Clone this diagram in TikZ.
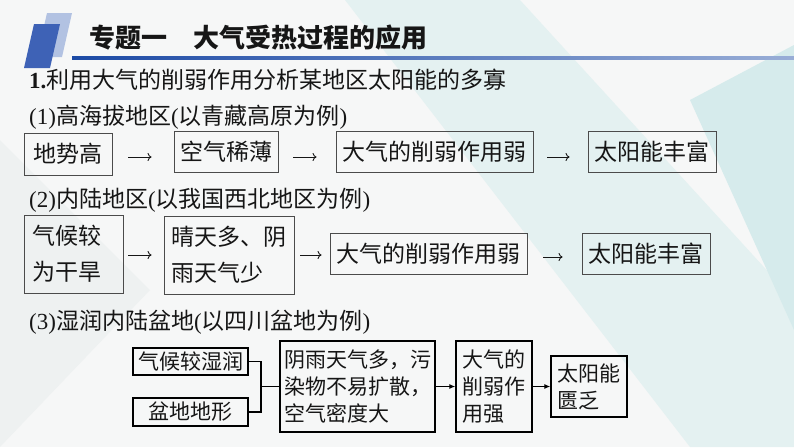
\documentclass[tikz,border=0pt]{standalone}
\usepackage{fontspec}
\setmainfont{Liberation Serif}
\newfontfamily\cjk{Noto Sans CJK SC}
\usetikzlibrary{arrows.meta,calc}
\newcommand{\zh}[1]{{\cjk #1}}
\definecolor{bg}{RGB}{246,247,247}
\definecolor{txt}{RGB}{22,22,22}
\definecolor{boxline}{RGB}{75,75,75}
\definecolor{darkblue}{RGB}{62,98,182}
\definecolor{lightblue}{RGB}{178,194,226}
\definecolor{lineblue}{RGB}{28,74,165}
\definecolor{bandA}{RGB}{228,241,241}
\definecolor{bandB}{RGB}{214,235,236}
\definecolor{bandC}{RGB}{238,241,241}
\tikzset{
  lbl/.style={anchor=west, inner sep=0, text=txt, font=\fontsize{23}{23}\selectfont},
  boxa/.style={draw=boxline, line width=0.9pt, inner sep=0, text=txt,
    font=\cjk\fontsize{23}{36}\selectfont},
  boxb/.style={draw=black, line width=1.3pt, inner sep=0, text=txt,
    font=\cjk\fontsize{21}{27}\selectfont},
  tarr/.style={draw=txt, line width=0.9pt, -{To[length=4pt,width=8pt]}},
  larr/.style={draw=black, line width=1.3pt, -{Latex[length=6pt,width=5pt]}},
  lnk/.style={draw=black, line width=1.3pt},
}
\begin{document}
\begin{tikzpicture}[x=1pt,y=-1pt]
\useasboundingbox (0,0) rectangle (794,447);
% background
\fill[bg] (0,0) rectangle (794,447);
\fill[bandC] (0,140) -- (150,290) -- (0,447) -- cycle;
\fill[bandA] (345,0) -- (520,0) -- (794,300) -- (794,447) -- (690,447) -- cycle;
\fill[bandB] (690,100) -- (794,45) -- (794,330) -- cycle;
% title decoration
\fill[lightblue] (47,13) -- (72,13) -- (62,57) -- (37,57) -- cycle;
\fill[darkblue] (34,24) -- (60,24) -- (50,68) -- (24,68) -- cycle;
\shade[left color=lineblue, right color=lineblue!45!white] (72,56) rectangle (794,59);
\node[anchor=west, inner sep=0, text=txt, font=\cjk\bfseries\fontsize{26}{26}\selectfont] (title) at (89,38) {专题一　大气受热过程的应用};
\node[lbl] (h1) at (29,80) {\textbf{1.}\zh{利用大气的削弱作用分析某地区太阳能的多寡}};
% row 1
\node[lbl] (l1) at (29,117) {(1)\zh{高海拔地区}(\zh{以青藏高原为例})};
\node[boxa, minimum width=88, minimum height=42] (r1a) at (68,154) {地势高};
\node[boxa, minimum width=104, minimum height=41] (r1b) at (226,151.5) {空气稀薄};
\node[boxa, minimum width=197, minimum height=41] (r1c) at (434.5,151.5) {大气的削弱作用弱};
\node[boxa, minimum width=128, minimum height=41] (r1d) at (652,151.5) {太阳能丰富};
\path ([yshift=-3pt]r1a.east) coordinate (y1a);
\path ([yshift=-5.5pt]r1b.east) coordinate (y1b);
\path ([yshift=-5.5pt]r1c.east) coordinate (y1c);
\draw[tarr, shorten <=16pt, shorten >=22pt] (y1a) -- (y1a -| r1b.west);
\draw[tarr, shorten <=15pt, shorten >=19pt] (y1b) -- (y1b -| r1c.west);
\draw[tarr, shorten <=14pt, shorten >=18pt] (y1c) -- (y1c -| r1d.west);
% row 2
\node[lbl] (l2) at (29,200) {(2)\zh{内陆地区}(\zh{以我国西北地区为例})};
\node[boxa, text width=83, inner xsep=8, minimum height=78, align=left] (r2a) at (73.5,254) {气候较\\为干旱};
\node[boxa, text width=116, inner xsep=7, minimum height=78, align=left] (r2b) at (229,255) {晴天多、阴\\雨天气少};
\node[boxa, minimum width=197, minimum height=41] (r2c) at (428.5,253.5) {大气的削弱作用弱};
\node[boxa, minimum width=128, minimum height=41] (r2d) at (646,253.5) {太阳能丰富};
\path ([yshift=-1pt]r2a.east) coordinate (y2a);
\path (r2b.east) coordinate (y2b);
\path ([yshift=-3.5pt]r2c.east) coordinate (y2c);
\draw[tarr, shorten <=5pt, shorten >=12pt] (y2a) -- (y2a -| r2b.west);
\draw[tarr, shorten <=6pt, shorten >=8pt] (y2b) -- (y2b -| r2c.west);
\draw[tarr, shorten <=16pt, shorten >=19pt] (y2c) -- (y2c -| r2d.west);
% row 3
\node[lbl] (l3) at (29,322) {(3)\zh{湿润内陆盆地}(\zh{以四川盆地为例})};
\node[boxb, minimum width=115, minimum height=27] (r3a) at (190.5,361.5) {气候较湿润};
\node[boxb, minimum width=115, minimum height=28] (r3b) at (190.5,412) {盆地地形};
\node[boxb, text width=147, inner xsep=4, minimum height=91, align=left] (r3c) at (357.5,386.5) {阴雨天气多，污\\染物不易扩散，\\空气密度大};
\node[boxb, text width=64, inner xsep=6, minimum height=91, align=left] (r3d) at (494,386.5) {大气的\\削弱作\\用强};
\node[boxb, text width=64, inner xsep=6, minimum height=61, align=left] (r3e) at (589,386.5) {太阳能\\匮乏};
\coordinate (j) at (261,386.5);
\draw[lnk] (r3a.east) -| (j) |- (r3b.east);
\draw[lnk] (j) -- (r3c.west);
\draw[larr] (r3c.east) -- (r3d.west);
\draw[larr] (r3d.east) -- (r3e.west);
\end{tikzpicture}
\end{document}
